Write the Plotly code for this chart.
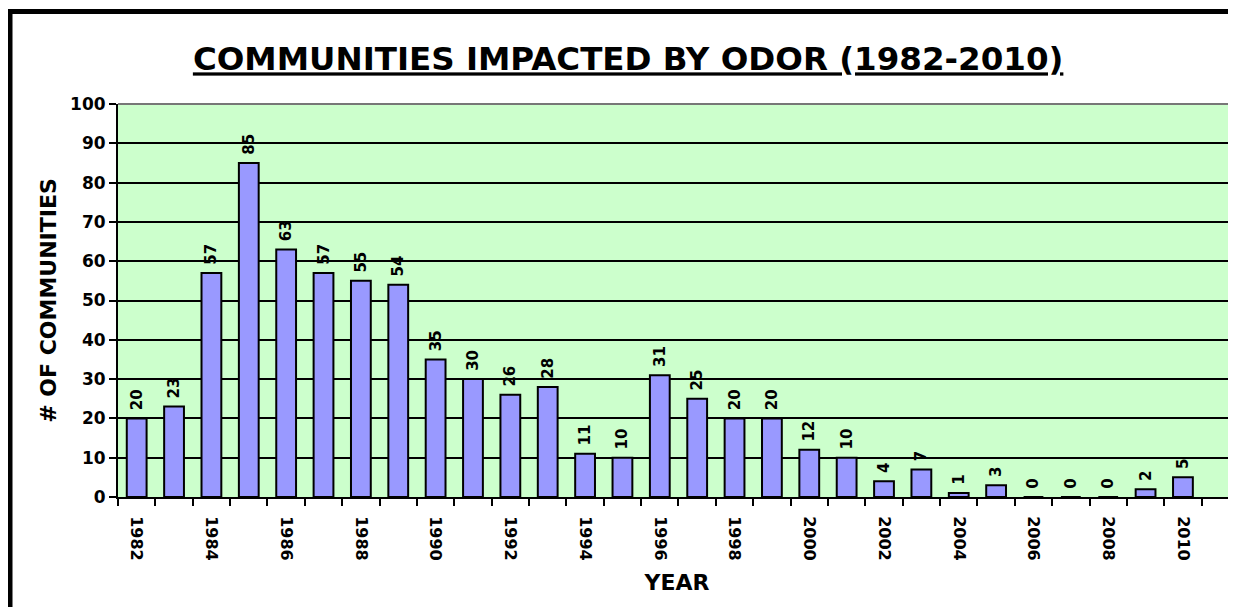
import plotly.graph_objects as go

years = list(range(1982, 2011))
communities = [20, 23, 57, 85, 63, 57, 55, 54, 35, 30, 26, 28, 11, 10, 31, 25,
               20, 20, 12, 10, 4, 7, 1, 3, 0, 0, 0, 2, 5]
tick_years = list(range(1982, 2011, 2))
tick_labels = [str(y) for y in tick_years]

FONT = "DejaVu Sans"
W, H = 1228, 599
ML, MT, MB = 110, 96, 110
PW = W - ML
PH = H - MT - MB

fig = go.Figure()
fig.add_trace(go.Bar(
    x=years, y=communities,
    width=0.53,
    marker=dict(color="#9999FF", line=dict(color="black", width=2)),
    text=["\u00a0" + str(v) for v in communities],
    textposition="outside",
    textangle=-90,
    constraintext="none",
    cliponaxis=False,
    textfont=dict(family=FONT, size=15, color="black", weight="bold"),
))

fig.update_layout(
    width=W, height=H,
    margin=dict(l=ML, r=0, t=MT, b=MB, autoexpand=False),
    paper_bgcolor="white",
    plot_bgcolor="#CCFFCC",
    showlegend=False,
    title=dict(
        text="<u><b>COMMUNITIES IMPACTED BY ODOR (1982-2010)</b></u>",
        x=0.505, xref="container", xanchor="center",
        y=1 - 51 / H, yref="container", yanchor="middle",
        font=dict(family=FONT, size=32.5, color="black"),
    ),
    xaxis=dict(
        range=[1981.5, 2011.42],
        tickmode="array", tickvals=tick_years, ticktext=tick_labels,
        tickangle=90,
        ticks="outside", ticklen=14, tickcolor="rgba(0,0,0,0)",
        tickfont=dict(family=FONT, size=16, color="black", weight="bold"),
        showgrid=False,
        showline=True, linecolor="black", linewidth=2,
        minor=dict(ticks="outside", tick0=1981.5, dtick=1, ticklen=7,
                   tickwidth=2, tickcolor="black", showgrid=False),
        title=dict(text="<b>YEAR</b>", font=dict(family=FONT, size=22, color="black"), standoff=15),
        zeroline=False,
    ),
    yaxis=dict(
        range=[0, 100], dtick=10,
        ticks="outside", ticklen=7, tickwidth=2, tickcolor="black",
        tickfont=dict(family=FONT, size=17, color="black", weight="bold"),
        showgrid=True, gridcolor="black", gridwidth=2,
        showline=True, linecolor="black", linewidth=2,
        zeroline=False,
        title=dict(text="<b># OF COMMUNITIES</b>", font=dict(family=FONT, size=22, color="black"), standoff=7),
    ),
    shapes=[
        dict(type="line", xref="paper", yref="paper", x0=0, x1=1.05, y0=1, y1=1,
             line=dict(color="#777777", width=2)),
        dict(type="rect", xref="paper", yref="paper",
             x0=(2 - ML) / PW, x1=1.2,
             y0=-0.5, y1=(MT + PH - 3.5) / PH,
             line=dict(color="black", width=5), fillcolor="rgba(0,0,0,0)", layer="above"),
    ],
)

fig.write_html("out.html")
